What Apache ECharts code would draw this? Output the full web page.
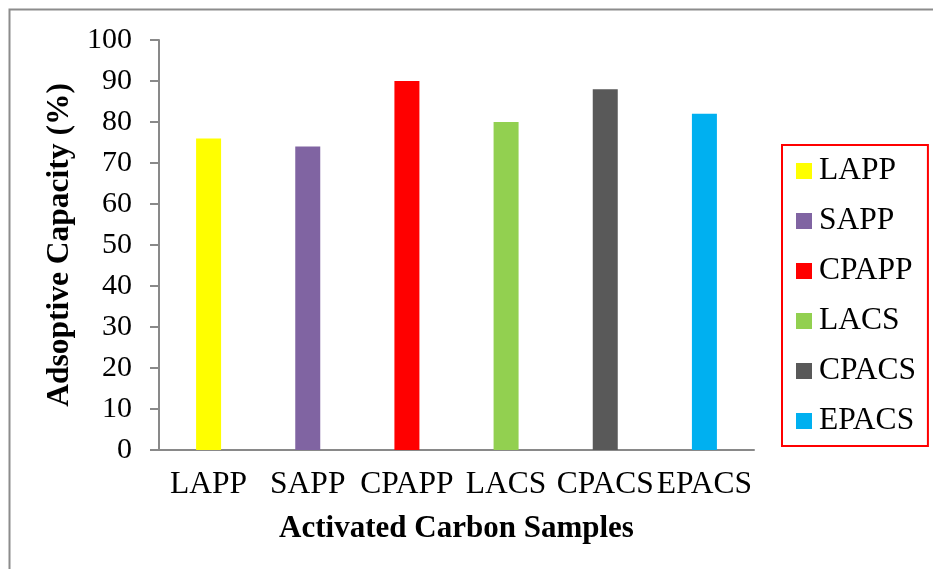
<!DOCTYPE html>
<html>
<head>
<meta charset="utf-8">
<script src="https://cdn.jsdelivr.net/npm/echarts@6/dist/echarts.min.js"></script>
<style>
  html, body { margin: 0; padding: 0; background: #fff; }
  #chart { width: 933px; height: 569px; }
</style>
</head>
<body>
<div id="chart"></div>
<script>
// Adsorptive capacity of each activated carbon sample
const categories = ['LAPP', 'SAPP', 'CPAPP', 'LACS', 'CPACS', 'EPACS'];
const capacity = [76, 74, 90, 80, 88, 82];
const barColors = ['#FFFF00', '#8064A2', '#FF0000', '#92D050', '#595959', '#00B0F0'];
const yTicks = { min: 0, max: 100, interval: 10 };

const serif = '"Liberation Serif", "Times New Roman", serif';
const axisGray = '#898989';

// One series per sample so every bar gets its own legend entry;
// bars overlap at the category centre via barGap -100%.
const series = categories.map((name, i) => ({
  name: name,
  type: 'bar',
  barWidth: 25,
  barGap: '-100%',
  itemStyle: { color: barColors[i] },
  data: categories.map((c, j) => (j === i ? capacity[i] : null))
}));

const chart = echarts.init(document.getElementById('chart'), null, { renderer: 'canvas' });
chart.setOption({
  animation: false,
  backgroundColor: '#fff',
  textStyle: { fontFamily: serif },
  graphic: [{
    type: 'polyline',
    shape: { points: [[9.5, 569], [9.5, 9.5], [933, 9.5]] },
    style: { stroke: '#8c8c8c', lineWidth: 2, fill: null },
    silent: true
  }],
  grid: { left: 159, right: 179, top: 40, bottom: 119 },
  legend: {
    orient: 'vertical',
    left: 782,
    top: 145,
    padding: [10, 12, 9, 14],
    borderColor: '#FF0000',
    borderWidth: 2,
    itemWidth: 16,
    itemHeight: 16,
    itemGap: 18,
    icon: 'rect',
    textStyle: { fontFamily: serif, fontSize: 31.5, color: '#000', padding: [0, 0, 0, 2] },
    data: categories
  },
  xAxis: {
    type: 'category',
    data: categories,
    axisLine: { lineStyle: { color: axisGray, width: 2 } },
    axisTick: { show: false },
    axisLabel: { fontFamily: serif, fontSize: 31.5, color: '#000', margin: 19, interval: 0 },
    name: 'Activated Carbon Samples',
    nameLocation: 'middle',
    nameGap: 63,
    nameTextStyle: { fontFamily: serif, fontSize: 31, fontWeight: 'bold', color: '#000' }
  },
  yAxis: {
    type: 'value',
    min: yTicks.min,
    max: yTicks.max,
    interval: yTicks.interval,
    splitLine: { show: false },
    axisLine: { show: true, lineStyle: { color: axisGray, width: 2 } },
    axisTick: { show: true, length: 9, lineStyle: { color: axisGray, width: 2 } },
    axisLabel: { fontFamily: serif, fontSize: 30, color: '#000', margin: 27 },
    name: 'Adsoptive Capacity (%)',
    nameLocation: 'middle',
    nameGap: 76,
    nameTextStyle: { fontFamily: serif, fontSize: 31.5, fontWeight: 'bold', color: '#000' }
  },
  series: series
});
</script>
</body>
</html>
